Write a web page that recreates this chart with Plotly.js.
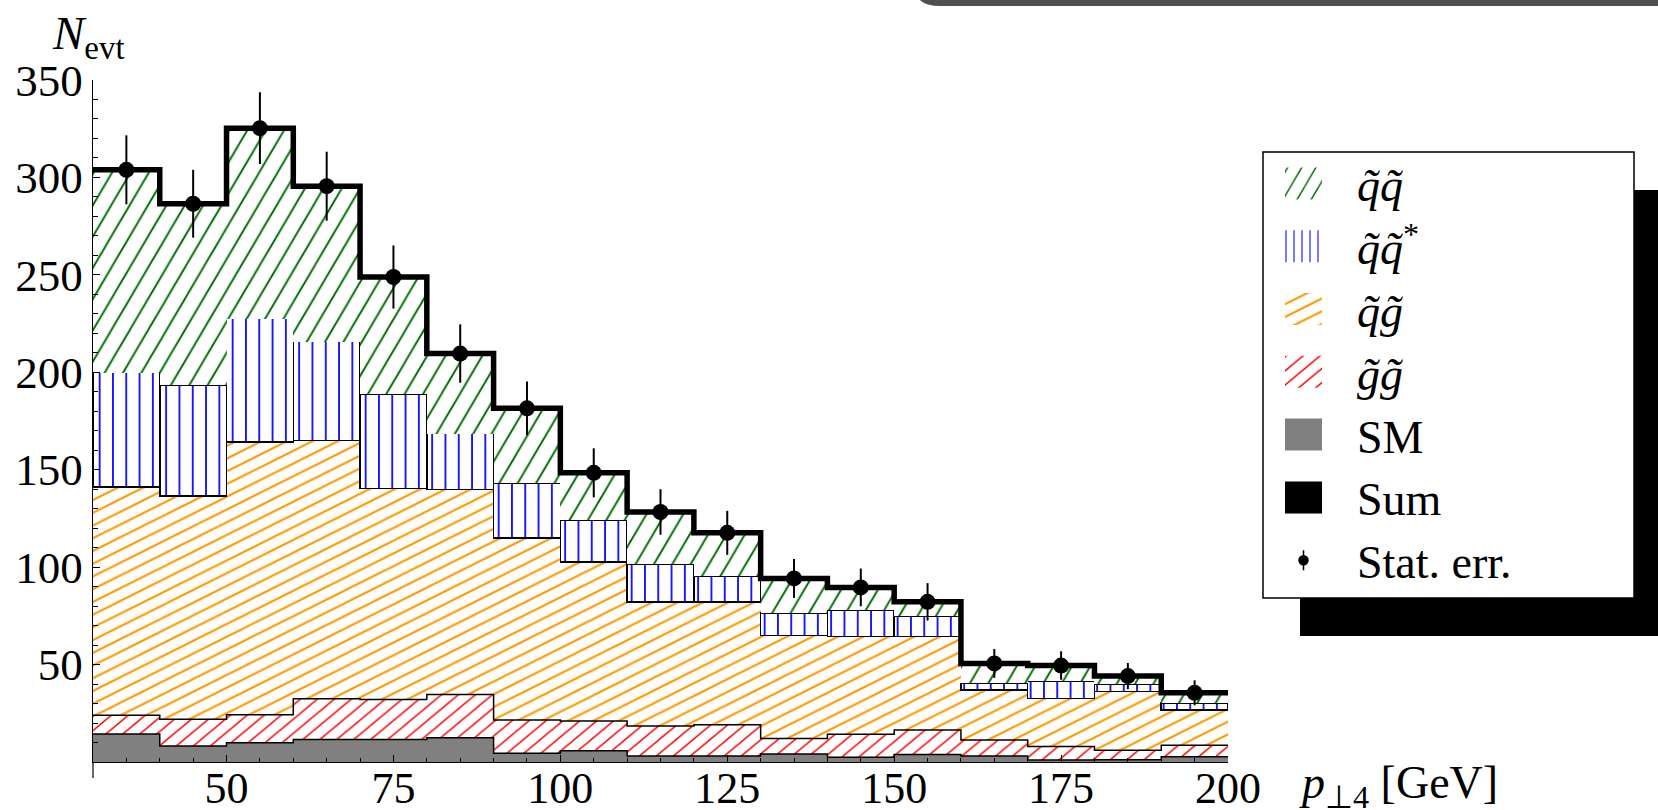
<!DOCTYPE html>
<html>
<head>
<meta charset="utf-8">
<script src="https://cdn.plot.ly/plotly-3.0.1.min.js"></script>
<style>
html,body{margin:0;padding:0;background:#ffffff;}
#chart{width:1658px;height:810px;}
</style>
</head>
<body>
<div id="chart"></div>
<script>
// ---- data (events per 10 GeV bin) ----
const binEdges = [30,40,50,60,70,80,90,100,110,120,130,140,150,160,170,180,190,200];
const smEvents      = [14.4, 8.2, 9.9, 11.6, 11.6, 12.5, 4.5, 5.8, 3.1, 3.1, 4.1, 2.4, 3.8, 3.1, 1.0, 1.2, 2.7];
const glglEvents    = [9.6, 13.8, 14.4, 20.9, 20.5, 22.2, 17.1, 15.2, 15.4, 16.0, 7.9, 11.8, 12.6, 8.2, 7.0, 4.8, 5.9];
const sqglEvents    = [117.2, 114.4, 139.8, 132.6, 108.2, 105.1, 93.4, 81.7, 63.7, 63.1, 52.8, 50.1, 47.9, 25.6, 24.7, 30.1, 18.1];
const sqsqbarEvents = [58.6, 56.9, 63.4, 50.6, 48.4, 28.7, 28.1, 21.5, 19.5, 13.3, 11.6, 13.6, 10.7, 3.4, 8.8, 3.9, 3.6];
const sqsqEvents    = [104.1, 93.2, 97.8, 79.8, 60.2, 41.1, 38.4, 24.2, 26.6, 22.1, 17.8, 11.7, 7.2, 10.3, 8.0, 4.1, 5.2];
const statErr       = [17.7, 17.4, 18.4, 17.7, 16.2, 15.0, 13.8, 12.6, 11.7, 11.3, 10.0, 9.7, 9.6, 7.4, 7.3, 6.7, 6.4];
const seriesNames = ['<i>q\u0303q\u0303</i>', '<i>q\u0303q\u0303</i><sup>*</sup>', '<i>q\u0303g\u0303</i>', '<i>g\u0303g\u0303</i>', 'SM', 'Sum', 'Stat. err.'];
const xTickVals = [50, 75, 100, 125, 150, 175, 200];
const yTickVals = [50, 100, 150, 200, 250, 300, 350];

// ---- derived ----
const centers = binEdges.slice(0, -1).map((e, i) => (e + binEdges[i + 1]) / 2);
const widths = binEdges.slice(0, -1).map((e, i) => binEdges[i + 1] - e);
const addArr = (a, b) => a.map((v, i) => v + b[i]);
const cumSM = smEvents.slice();
const cumGG = addArr(cumSM, glglEvents);
const cumQG = addArr(cumGG, sqglEvents);
const cumQQB = addArr(cumQG, sqsqbarEvents);
const totals = addArr(cumQQB, sqsqEvents);
const stepY = a => a.concat([a[a.length - 1]]);

const FONT = 'Liberation Serif, Times New Roman, serif';
const GREEN = 'rgb(0,110,0)', BLUE = 'rgb(0,0,255)', ORANGE = 'rgb(255,153,0)', RED = 'rgb(255,0,0)';
const legendItemWidth = 97;

function hatchBar(y, name, rank, shape, color, size, solidity, lineW) {
  return {
    type: 'bar', x: centers, y: y, width: widths, name: name, legendrank: rank,
    marker: {
      color: 'white',
      line: {color: 'black', width: lineW},
      pattern: {shape: shape, fgcolor: color, bgcolor: 'white', size: size, solidity: solidity, fillmode: 'replace'}
    },
    hoverinfo: 'skip'
  };
}

const data = [
  {type: 'bar', x: centers, y: smEvents, width: widths, name: seriesNames[4], legendrank: 5,
   marker: {color: 'rgb(128,128,128)', line: {width: 0}}, hoverinfo: 'skip'},
  hatchBar(glglEvents, seriesNames[3], 4, '/', RED, 10, 0.14, 0),
  hatchBar(sqglEvents, seriesNames[2], 3, '/', ORANGE, 9, 0.18, 0),
  hatchBar(sqsqbarEvents, seriesNames[1], 2, '|', BLUE, 13.3, 0.13, 1.5),
  hatchBar(sqsqEvents, seriesNames[0], 1, '/', GREEN, 13, 0.12, 0),
  {type: 'scatter', mode: 'lines', x: binEdges, y: stepY(cumSM), line: {shape: 'hv', color: 'black', width: 1.5},
   showlegend: false, hoverinfo: 'skip'},
  {type: 'scatter', mode: 'lines', x: binEdges, y: stepY(cumGG), line: {shape: 'hv', color: 'black', width: 1.5},
   showlegend: false, hoverinfo: 'skip'},
  {type: 'scatter', mode: 'lines', x: binEdges, y: stepY(totals), name: seriesNames[5], legendrank: 6,
   line: {shape: 'hv', color: 'black', width: 5.5}, hoverinfo: 'skip'},
  {type: 'scatter', mode: 'markers', x: centers, y: totals, name: seriesNames[6], legendrank: 7,
   marker: {color: 'black', size: 16},
   error_y: {type: 'data', array: statErr, visible: true, color: 'black', thickness: 2, width: 0},
   hoverinfo: 'skip'}
];

const px2x = p => (p - 93) / 1135;
const py2y = p => (762 - p) / 682;

const layout = {
  width: 1658, height: 810,
  margin: {l: 93, r: 430, t: 80, b: 48, pad: 0},
  paper_bgcolor: 'white', plot_bgcolor: 'white',
  barmode: 'stack', bargap: 0,
  font: {family: FONT, color: 'black'},
  showlegend: true,
  xaxis: {
    range: [30, 200], showline: true, linecolor: 'black', linewidth: 1.2, mirror: false,
    showgrid: false, zeroline: false,
    tickmode: 'array', tickvals: xTickVals, ticktext: xTickVals.map(String),
    ticks: 'inside', ticklen: 7, tickwidth: 1, tickcolor: 'black',
    tickfont: {family: FONT, size: 44, color: 'black'}, ticklabelstandoff: -13,
    minor: {tickmode: 'linear', tick0: 30, dtick: 5, ticks: 'inside', ticklen: 4, tickwidth: 1, tickcolor: 'black', showgrid: false}
  },
  yaxis: {
    range: [0, 350], showline: true, linecolor: 'black', linewidth: 1.2, mirror: false,
    showgrid: false, zeroline: false,
    tickmode: 'array', tickvals: yTickVals, ticktext: yTickVals.map(String),
    ticks: 'inside', ticklen: 7, tickwidth: 1, tickcolor: 'black',
    tickfont: {family: FONT, size: 45, color: 'black'}, ticklabelstandoff: 0,
    minor: {tickmode: 'linear', tick0: 0, dtick: 10, ticks: 'inside', ticklen: 5, tickwidth: 1, tickcolor: 'black', showgrid: false}
  },
  legend: {
    x: px2x(1250), y: py2y(147), xanchor: 'left', yanchor: 'top',
    bgcolor: 'rgba(0,0,0,0)', borderwidth: 0,
    font: {family: FONT, size: 46, color: 'black'},
    itemwidth: legendItemWidth, traceorder: 'normal'
  },
  shapes: [
    {type: 'rect', xref: 'paper', yref: 'paper', x0: px2x(1300), x1: px2x(1700), y0: py2y(636), y1: py2y(190),
     fillcolor: 'black', line: {width: 0}, layer: 'above'},
    {type: 'rect', xref: 'paper', yref: 'paper', x0: px2x(1263), x1: px2x(1634), y0: py2y(598), y1: py2y(152),
     fillcolor: 'white', line: {color: 'black', width: 1.5}, layer: 'above'},
    {type: 'path', xref: 'paper', yref: 'paper', layer: 'above',
     path: 'M ' + px2x(918) + ',' + py2y(-2) + ' Q ' + px2x(924) + ',' + py2y(6) + ' ' + px2x(940) + ',' + py2y(6) +
           ' L ' + px2x(1700) + ',' + py2y(6) + ' L ' + px2x(1700) + ',' + py2y(-5) + ' Z',
     fillcolor: 'rgb(80,80,80)', line: {width: 0}},
    {type: 'line', xref: 'paper', yref: 'paper', x0: 0, x1: 0, y0: 0, y1: py2y(778),
     line: {color: 'black', width: 1.2}}
  ],
  annotations: [
    {xref: 'paper', yref: 'paper', x: px2x(50), y: py2y(36), xanchor: 'left', yanchor: 'middle', showarrow: false,
     text: '<i>N</i><sub>evt</sub>', font: {family: FONT, size: 47, color: 'black'}},
    {xref: 'paper', yref: 'paper', x: px2x(1297), y: py2y(786), xanchor: 'left', yanchor: 'middle', showarrow: false,
     text: '<i>p</i><sub>\u22a54</sub> [GeV]', font: {family: FONT, size: 46, color: 'black'}}
  ]
};

Plotly.newPlot('chart', data, layout, {staticPlot: true, displayModeBar: false}).then(gd => {
  // steer hatch angles of the library-made patterns
  const hatchTransforms = {};
  hatchTransforms[GREEN.replace(/\s/g, '')] = 'scale(1,1.7)';
  hatchTransforms[ORANGE.replace(/\s/g, '')] = 'scale(2,1)';
  hatchTransforms[RED.replace(/\s/g, '')] = 'scale(1.2,1)';
  gd.querySelectorAll('pattern').forEach(p => {
    const path = p.querySelector('path');
    if (!path) return;
    const col = (path.style.stroke || path.getAttribute('stroke') || '').replace(/\s/g, '');
    if (hatchTransforms[col]) p.setAttribute('patternTransform', hatchTransforms[col]);
  });
  // larger legend keys like the reference
  const c = (legendItemWidth + 10) / 2;
  gd.querySelectorAll('.legend .traces').forEach(tr => {
    const name = tr.querySelector('.legendtext').textContent;
    if (name === 'Sum') {
      tr.querySelectorAll('.legendlines path').forEach(p => {
        p.setAttribute('d', 'M' + (c - 18.5) + ',0h37');
        p.style.strokeWidth = '32px';
        p.style.strokeLinecap = 'butt';
      });
    } else if (name === 'Stat. err.') {
      tr.querySelectorAll('.legendpoints path').forEach(p => {
        p.removeAttribute('transform');
        p.setAttribute('d', 'M' + (c + 4.5) + ',0A4.5,4.5 0 1,1 ' + c + ',-4.5A4.5,4.5 0 0,1 ' + (c + 4.5) + ',0Z' +
                            'M' + c + ',-10V10');
        p.style.stroke = 'black';
        p.style.strokeWidth = '1.5px';
      });
    } else {
      tr.querySelectorAll('.legendpoints path').forEach(p => {
        p.removeAttribute('transform');
        p.setAttribute('d', 'M' + (c + 18.5) + ',16H' + (c - 18.5) + 'V-16H' + (c + 18.5) + 'Z');
        p.style.strokeWidth = '0px';
      });
    }
  });
});
</script>
</body>
</html>
